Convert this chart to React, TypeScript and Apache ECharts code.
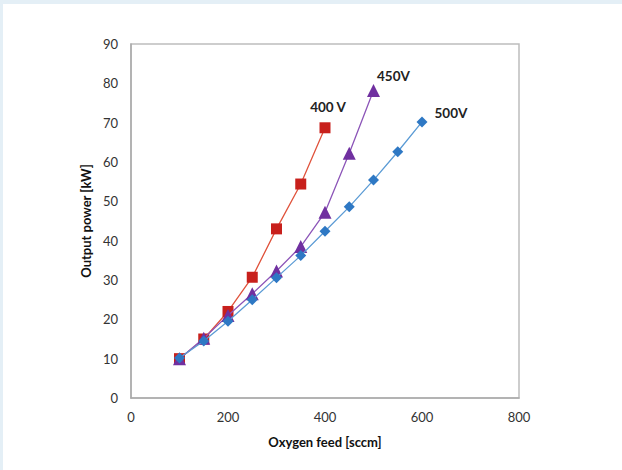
import React, { useEffect, useRef } from "react";
import * as echarts from "echarts";

const feed400 = [100, 150, 200, 250, 300, 350, 400];
const power400 = [10, 15, 22, 30.7, 43, 54.4, 68.7];
const feed450 = [100, 150, 200, 250, 300, 350, 400, 450, 500];
const power450 = [10, 15.2, 21, 26.5, 32.3, 38.5, 47.2, 62.2, 78.2];
const feed500 = [100, 150, 200, 250, 300, 350, 400, 450, 500, 550, 600];
const power500 = [10.2, 14.5, 19.5, 25, 30.6, 36.2, 42.4, 48.6, 55.4, 62.6, 70.2];
const seriesNames = ["400 V", "450V", "500V"];
const xTicks = [0, 200, 400, 600, 800];

const FONT = "Lato, 'Open Sans', sans-serif";

function build(xs: number[], ys: number[], name: string, pos: any, offset: number[]) {
  return xs.map((x, i) => {
    if (i === xs.length - 1) {
      return {
        value: [x, ys[i]],
        label: {
          show: true,
          formatter: name,
          position: pos,
          offset,
          fontFamily: FONT,
          fontWeight: "bold",
          fontSize: 13.5,
          color: "#222",
        },
      };
    }
    return { value: [x, ys[i]] };
  });
}

export default function App() {
  const ref = useRef<HTMLDivElement>(null);
  useEffect(() => {
    const chart = echarts.init(ref.current!, null, { renderer: "svg" });
    chart.setOption({
      animation: false,
      backgroundColor: "#ffffff",
      graphic: [
        { type: "rect", shape: { x: 0, y: 0, width: 622, height: 4 }, style: { fill: "#e4eff6" }, silent: true },
        { type: "rect", shape: { x: 0, y: 0, width: 3, height: 470 }, style: { fill: "#e4eff6" }, silent: true },
      ],
      grid: {
        left: 131,
        right: 103,
        top: 44,
        bottom: 72,
        show: true,
        borderColor: "#bdbdbd",
        borderWidth: 1.5,
        backgroundColor: "transparent",
      },
      xAxis: {
        type: "value",
        min: 0,
        max: 800,
        interval: 200,
        name: "Oxygen feed [sccm]",
        nameLocation: "middle",
        nameGap: 37,
        nameTextStyle: { fontFamily: FONT, fontWeight: "bold", fontSize: 13, color: "#111" },
        axisLine: { show: true, lineStyle: { color: "#aaaaaa", width: 1.5 } },
        axisTick: { show: false },
        splitLine: { show: false },
        axisLabel: {
          fontFamily: FONT,
          fontSize: 13,
          color: "#333",
          margin: 12,
          formatter: (v: number) => (xTicks.includes(v) ? String(v) : ""),
        },
      },
      yAxis: {
        type: "value",
        min: 0,
        max: 90,
        interval: 10,
        name: "Output power [kW]",
        nameLocation: "middle",
        nameGap: 36,
        nameTextStyle: { fontFamily: FONT, fontWeight: "bold", fontSize: 13, color: "#111" },
        axisLine: { show: true, lineStyle: { color: "#aaaaaa", width: 1.5 } },
        axisTick: { show: false },
        splitLine: { show: false },
        axisLabel: { fontFamily: FONT, fontSize: 13, color: "#333", margin: 13 },
      },
      series: [
        {
          name: seriesNames[0],
          type: "line",
          data: build(feed400, power400, seriesNames[0], "top", [3, -3]),
          symbol: "rect",
          symbolSize: 11,
          itemStyle: { color: "#c8201c" },
          lineStyle: { color: "#e0533c", width: 1.3 },
          z: 2,
        },
        {
          name: seriesNames[1],
          type: "line",
          data: build(feed450, power450, seriesNames[1], "right", [-8, -14]),
          symbol: "triangle",
          symbolSize: 13,
          itemStyle: { color: "#7030a0" },
          lineStyle: { color: "#8c55b8", width: 1.3 },
          z: 3,
        },
        {
          name: seriesNames[2],
          type: "line",
          data: build(feed500, power500, seriesNames[2], "right", [2, -9]),
          symbol: "diamond",
          symbolSize: 11,
          itemStyle: { color: "#2e78c4" },
          lineStyle: { color: "#5b9bd5", width: 1.3 },
          z: 4,
        },
      ],
    });
    return () => chart.dispose();
  }, []);
  return <div ref={ref} style={{ width: 622, height: 470, position: "absolute", left: 0, top: 0 }} />;
}
